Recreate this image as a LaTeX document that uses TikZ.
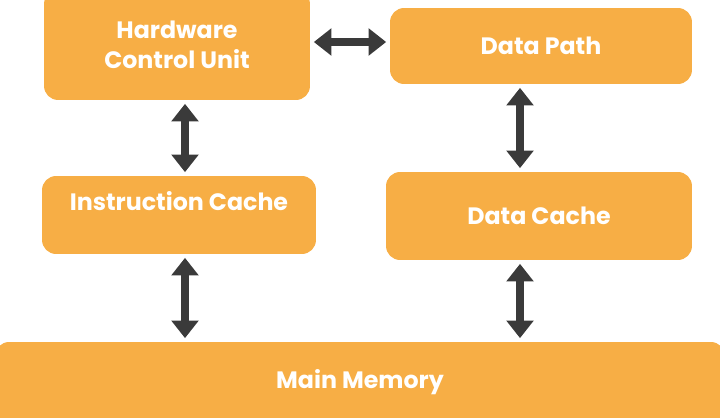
\documentclass[tikz,border=0pt]{standalone}
\usepackage{fontspec}
\setmainfont{Poppins}
\usetikzlibrary{arrows.meta}
\definecolor{boxorange}{HTML}{F7AE45}
\definecolor{arrowgray}{HTML}{3A3A3A}
\tikzset{
  unitbox/.style={fill=boxorange, rounded corners=8pt, text=white, font=\bfseries\fontsize{13.5}{17}\selectfont, align=center, inner sep=0pt},
  busarrow/.style={draw=arrowgray, line width=4.5pt, {Triangle[length=10pt,width=15pt]}-{Triangle[length=10pt,width=15pt]}, shorten <=2pt, shorten >=2pt}
}
\begin{document}
\begin{tikzpicture}[x=0.02cm, y=-0.02cm]
  \useasboundingbox (0,0) rectangle (720,418);
  \node[unitbox, minimum width=5.32cm, minimum height=2.2cm] (hcu) at (177,45) {Hardware\\Control Unit};
  \node[unitbox, minimum width=6.04cm, minimum height=1.52cm] (dp) at (541,46) {Data Path};
  \node[unitbox, minimum width=5.48cm, minimum height=1.56cm] (ic) at (179,215) {};
  \node[text=white, font=\bfseries\fontsize{13.5}{17}\selectfont] (iclabel) at (179,201) {Instruction Cache};
  \node[unitbox, minimum width=6.12cm, minimum height=1.76cm] (dc) at (539,216) {Data Cache};
  \node[unitbox, minimum width=14.6cm, minimum height=1.6cm] (mem) at (360,382) {Main Memory};
  \draw[busarrow] (hcu.east |- 0,42) -- (dp.west |- 0,42);
  \draw[busarrow] ([xshift=0.16cm]hcu.south) -- ([xshift=0.12cm]ic.north);
  \draw[busarrow] ([xshift=0.12cm]ic.south) -- ([xshift=0.12cm]ic.south |- mem.north);
  \draw[busarrow] ([xshift=-0.42cm]dp.south) -- ([xshift=-0.38cm]dc.north);
  \draw[busarrow] ([xshift=-0.38cm]dc.south) -- ([xshift=-0.38cm]dc.south |- mem.north);
\end{tikzpicture}
\end{document}
